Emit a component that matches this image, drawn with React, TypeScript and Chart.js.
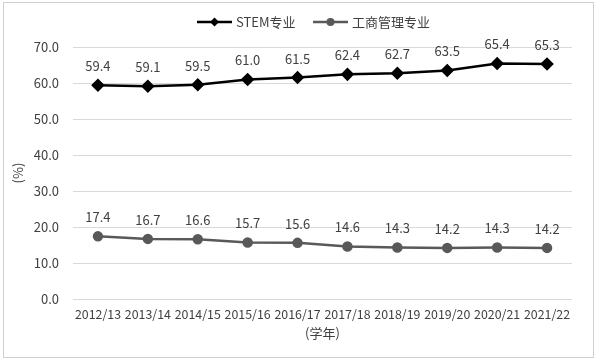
import React, { useEffect, useRef } from "react";
import { Chart, registerables } from "chart.js";

Chart.register(...registerables);

const categories = ["2012/13", "2013/14", "2014/15", "2015/16", "2016/17", "2017/18", "2018/19", "2019/20", "2020/21", "2021/22"];
const stemValues = [59.4, 59.1, 59.5, 61.0, 61.5, 62.4, 62.7, 63.5, 65.4, 65.3];
const bizValues = [17.4, 16.7, 16.6, 15.7, 15.6, 14.6, 14.3, 14.2, 14.3, 14.2];
const seriesNames = ["STEM专业", "工商管理专业"];
const yTitle = "(%)";
const xTitle = "(学年)";

const FONT = "'Noto Sans CJK SC', 'Noto Sans', sans-serif";

const dataLabelPlugin = {
  id: "dataLabels",
  afterDatasetsDraw(chart: any) {
    const ctx = chart.ctx;
    ctx.save();
    ctx.font = `13px ${FONT}`;
    ctx.fillStyle = "#404040";
    ctx.textAlign = "center";
    ctx.textBaseline = "middle";
    chart.data.datasets.forEach((ds: any, i: number) => {
      const meta = chart.getDatasetMeta(i);
      meta.data.forEach((pt: any, j: number) => {
        ctx.fillText(Number(ds.data[j]).toFixed(1), pt.x, pt.y - 19);
      });
    });
    ctx.restore();
  },
};

const legendPlugin = {
  id: "customLegend",
  afterDraw(chart: any) {
    const ctx = chart.ctx;
    ctx.save();
    ctx.font = `13px ${FONT}`;
    ctx.textBaseline = "middle";
    ctx.textAlign = "left";
    const y = 22;
    const items = [
      { x: 197, color: "#000000", style: "diamond" },
      { x: 313, color: "#595959", style: "circle" },
    ];
    items.forEach((it, i) => {
      ctx.strokeStyle = it.color;
      ctx.lineWidth = 2.5;
      ctx.beginPath();
      ctx.moveTo(it.x, y);
      ctx.lineTo(it.x + 35, y);
      ctx.stroke();
      ctx.fillStyle = it.color;
      const cx = it.x + 17.5;
      ctx.beginPath();
      if (it.style === "diamond") {
        ctx.moveTo(cx, y - 4.5);
        ctx.lineTo(cx + 4.5, y);
        ctx.lineTo(cx, y + 4.5);
        ctx.lineTo(cx - 4.5, y);
        ctx.closePath();
      } else {
        ctx.arc(cx, y, 4, 0, Math.PI * 2);
      }
      ctx.fill();
      ctx.fillStyle = "#404040";
      ctx.fillText(seriesNames[i], it.x + 39, y);
    });
    ctx.restore();
  },
};

export default function App() {
  const ref = useRef<HTMLCanvasElement>(null);
  useEffect(() => {
    document.body.style.margin = "0";
    const chart = new Chart(ref.current!, {
      type: "line",
      data: {
        labels: categories,
        datasets: [
          {
            label: seriesNames[0],
            data: stemValues,
            borderColor: "#000000",
            backgroundColor: "#000000",
            borderWidth: 2.5,
            pointStyle: "rectRot",
            pointRadius: 5,
            pointHoverRadius: 5,
          },
          {
            label: seriesNames[1],
            data: bizValues,
            borderColor: "#595959",
            backgroundColor: "#595959",
            borderWidth: 2.5,
            pointStyle: "circle",
            pointRadius: 4,
            pointHoverRadius: 4,
          },
        ],
      },
      options: {
        animation: false,
        responsive: false,
        maintainAspectRatio: false,
        layout: { padding: { top: 47, left: 6, right: 28, bottom: 23 } },
        plugins: {
          legend: { display: false },
          tooltip: { enabled: false },
        },
        scales: {
          x: {
            offset: true,
            grid: { display: false },
            border: { display: false },
            ticks: {
              autoSkip: false,
              maxRotation: 0,
              minRotation: 0,
              color: "#404040",
              font: { size: 12.4, family: FONT },
              padding: 0,
            },
            title: {
              display: true,
              text: xTitle,
              color: "#404040",
              font: { size: 13, family: FONT, lineHeight: 1.0 },
              padding: { top: 0, bottom: 0 },
            },
            afterFit: (scale: any) => {
              scale.height = 41;
            },
          },
          y: {
            min: 0,
            max: 70,
            grid: { color: "#d9d9d9", lineWidth: 1, drawTicks: false },
            border: { display: false },
            ticks: {
              stepSize: 10,
              color: "#404040",
              font: { size: 13, family: FONT },
              padding: 14,
              callback: (v: any) => Number(v).toFixed(1),
            },
            title: {
              display: true,
              text: yTitle,
              color: "#404040",
              font: { size: 13, family: FONT },
            },
            afterFit: (scale: any) => {
              scale.width = 67;
            },
          },
        },
      },
      plugins: [dataLabelPlugin, legendPlugin],
    });
    return () => chart.destroy();
  }, []);
  return (
    <div style={{ position: "absolute", left: 0, top: 0, width: 600, height: 363, background: "#fff" }}>
      <div
        style={{
          position: "absolute",
          left: 3,
          top: 2,
          width: 591,
          height: 356,
          boxSizing: "border-box",
          border: "1px solid #d0d0d0",
        }}
      />
      <canvas ref={ref} width={600} height={363} style={{ position: "absolute", left: 0, top: 0 }} />
    </div>
  );
}
